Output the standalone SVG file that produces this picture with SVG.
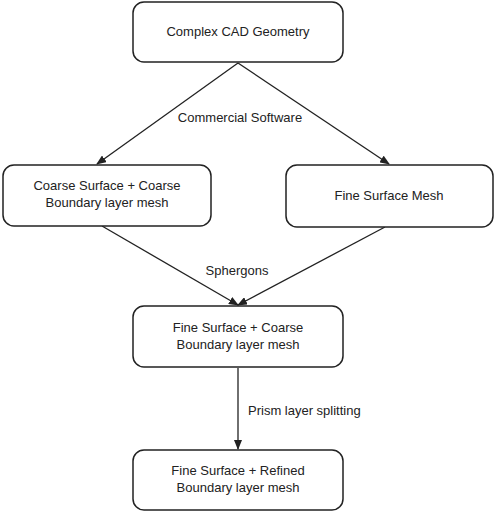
<svg xmlns="http://www.w3.org/2000/svg" width="498" height="512" viewBox="0 0 498 512">
<style>
.box{fill:#fff;stroke:#222;stroke-width:1.5}
.t{font-family:"Liberation Sans",Arial,sans-serif;font-size:13px;fill:#222;text-anchor:middle}
.e{stroke:#222;stroke-width:1.3;fill:none;marker-end:url(#ah)}
</style>
<defs>
<marker id="ah" markerWidth="10" markerHeight="8" refX="9" refY="4" orient="auto" markerUnits="userSpaceOnUse">
<path d="M0,0 L10,4 L0,8 Z" fill="#222"/>
</marker>
</defs>
<g id="connectors">
<line class="e" x1="238" y1="63" x2="97" y2="164"/>
<line class="e" x1="238" y1="63" x2="389" y2="164"/>
<line class="e" x1="102" y1="226" x2="238" y2="305"/>
<line class="e" x1="385" y1="227" x2="238" y2="305"/>
<line class="e" x1="238" y1="368" x2="238" y2="449"/>
<text class="t" x="240" y="122">Commercial Software</text>
<text class="t" x="237" y="275">Sphergons</text>
<text class="t" x="248" y="415" style="text-anchor:start">Prism layer splitting</text>
</g>
<g id="n1">
<rect class="box" x="133" y="2" width="210" height="60" rx="11"/>
<text class="t" x="238" y="36">Complex CAD Geometry</text>
</g>
<g id="n2">
<rect class="box" x="3" y="165" width="208" height="61" rx="11"/>
<text class="t" x="107" y="190">Coarse Surface + Coarse</text>
<text class="t" x="107" y="207">Boundary layer mesh</text>
</g>
<g id="n3">
<rect class="box" x="286" y="165" width="207" height="62" rx="11"/>
<text class="t" x="389" y="200">Fine Surface Mesh</text>
</g>
<g id="n4">
<rect class="box" x="133" y="306" width="210" height="61" rx="11"/>
<text class="t" x="238" y="332">Fine Surface + Coarse</text>
<text class="t" x="238" y="349">Boundary layer mesh</text>
</g>
<g id="n5">
<rect class="box" x="133" y="450" width="210" height="60" rx="11"/>
<text class="t" x="238" y="475">Fine Surface + Refined</text>
<text class="t" x="238" y="492">Boundary layer mesh</text>
</g>
</svg>
